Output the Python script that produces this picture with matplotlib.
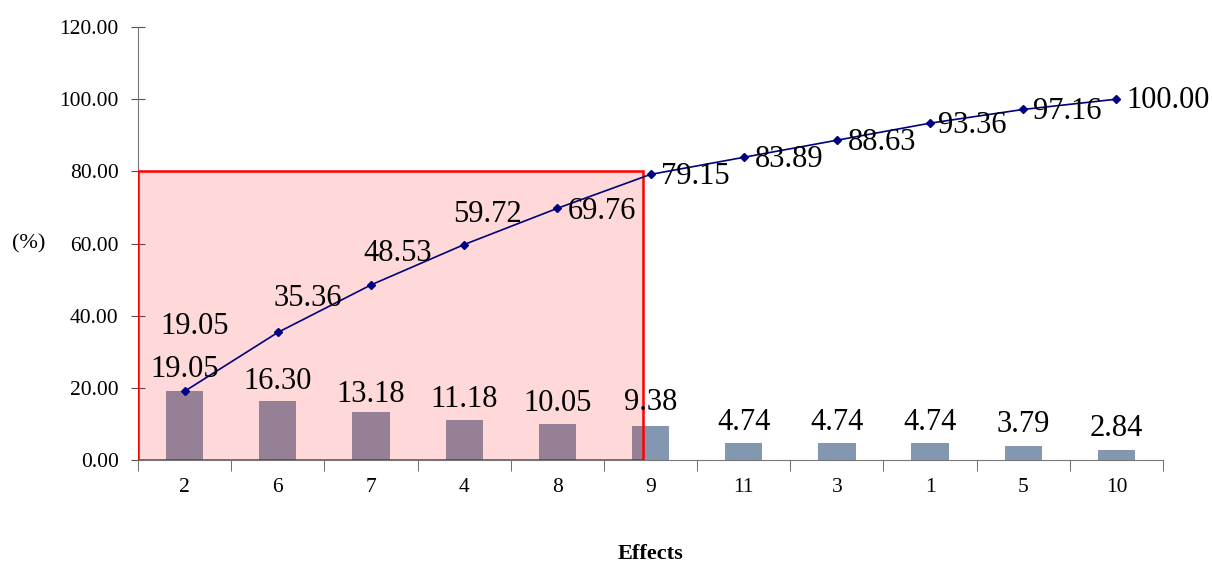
import matplotlib.pyplot as plt
from matplotlib.patches import Rectangle
from matplotlib.ticker import FixedLocator

plt.rcParams['font.family'] = ['Liberation Serif', 'DejaVu Serif']

effects = ['2', '6', '7', '4', '8', '9', '11', '3', '1', '5', '10']
percent = [19.05, 16.30, 13.18, 11.18, 10.05, 9.38, 4.74, 4.74, 4.74, 3.79, 2.84]
cumulative = [19.05, 35.36, 48.53, 59.72, 69.76, 79.15, 83.89, 88.63, 93.36, 97.16, 100.00]

# label offsets in pixels (dx, dy) to the text baseline
cum_off = [(10, 57), (30, 26), (27, 24), (23, 23), (45, -11), (45, -10),
           (45, -10), (45, -10), (42, -10), (44, -10), (52, -9)]
bar_off = [14, 12, 10, 13, 13, 16, 13, 13, 13, 14, 14]

x = list(range(len(effects)))

fig = plt.figure(figsize=(12.12, 5.63), dpi=100)
ax = fig.add_axes([0.1139, 0.1829, 0.8457, 0.7691])

ax.bar(x, percent, width=0.4, color='#8497B0', zorder=2)
ax.plot(x, cumulative, color='#000080', lw=1.2, marker='D', ms=4, zorder=4)

# 80% region
ax.add_patch(Rectangle((-0.5, 0), 5.42, 80, facecolor=(1, 0, 0, 0.15),
                       edgecolor='#FF0000', lw=1.8, zorder=3))

for i, v in enumerate(percent):
    ax.annotate('%.2f' % v, (i, v), xytext=(0, bar_off[i]), textcoords='offset pixels',
                ha='center', va='baseline', fontsize=22, zorder=5)
for i, v in enumerate(cumulative):
    dx, dy = cum_off[i]
    ax.annotate('%.2f' % v, (i, v), xytext=(dx, dy), textcoords='offset pixels',
                ha='center', va='baseline', fontsize=22, zorder=5)

ax.set_xlim(-0.5, len(effects) - 0.5)
ax.set_ylim(0, 120)
ax.set_yticks([0, 20, 40, 60, 80, 100, 120])
ax.set_yticklabels(['%.2f' % t for t in [0, 20, 40, 60, 80, 100, 120]], fontsize=15.5)
ax.set_xticks(x)
ax.set_xticklabels(effects, fontsize=15.5)
ax.xaxis.set_minor_locator(FixedLocator([i + 0.5 for i in range(-1, len(effects))]))
ax.tick_params(axis='x', which='major', length=0, pad=13)
ax.tick_params(axis='x', which='minor', length=8, color='#555555')
ax.tick_params(axis='y', direction='inout', length=10, color='#555555', pad=9)

for s in ['top', 'right']:
    ax.spines[s].set_visible(False)
for s in ['left', 'bottom']:
    ax.spines[s].set_color('#777777')

ax.set_xlabel('Effects', fontsize=16, fontweight='bold', labelpad=34)
ax.text(-0.107, 60, '(%)', transform=ax.get_yaxis_transform(), fontsize=16,
        ha='center', va='center')

fig.savefig('out.png', dpi=100)
